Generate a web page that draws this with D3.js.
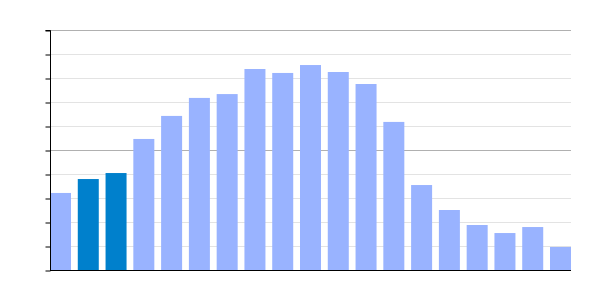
<!DOCTYPE html>
<html><head><meta charset="utf-8">
<script src="https://cdn.jsdelivr.net/npm/d3@7"></script>
<style>body{margin:0;background:#fff;} svg{display:block;}</style>
</head><body>
<script>
const categories = ["1","2","3","4","5","6","7","8","9","10","11","12","13","14","15","16","17","18","19"];
const values = [3.21,3.79,4.04,5.46,6.42,7.17,7.33,8.375,8.21,8.54,8.25,7.75,6.17,3.54,2.5,1.875,1.54,1.79,0.96];
const highlighted = ["2","3"];
const minorTicks = [1,2,3,4,6,7,8,9];
const majorTicks = [0,5,10];

const W=600,H=300, mLeft=50, mRight=571, mTop=30, mBottom=270;
const svg=d3.select("body").append("svg").attr("width",W).attr("height",H);
const x=d3.scaleBand().domain(categories).range([mLeft,mRight]).paddingInner(0.244).paddingOuter(0);
const y=d3.scaleLinear().domain([0,10]).range([mBottom,mTop]);

svg.append("g").selectAll("line").data(minorTicks).join("line")
  .attr("x1",mLeft).attr("x2",mRight).attr("y1",d=>y(d)+0.5).attr("y2",d=>y(d)+0.5)
  .attr("stroke","#e3e3e3").attr("stroke-width",1);
svg.append("g").selectAll("line").data(majorTicks.filter(d=>d>0)).join("line")
  .attr("x1",mLeft).attr("x2",mRight).attr("y1",d=>y(d)+0.5).attr("y2",d=>y(d)+0.5)
  .attr("stroke","#b0b0b0").attr("stroke-width",1);

svg.append("g").selectAll("rect").data(categories).join("rect")
  .attr("x",d=>x(d)).attr("width",x.bandwidth())
  .attr("y",(d,i)=>y(values[i])).attr("height",(d,i)=>y(0)-y(values[i]))
  .attr("fill",d=>highlighted.includes(d)?"#0080cc":"#99b3ff");

const yAxis=d3.axisLeft(y).tickValues(d3.range(0,11)).tickSize(5).tickFormat("");
const g=svg.append("g").attr("transform",`translate(${mLeft+0.5},0.5)`).call(yAxis);
g.select(".domain").attr("d",`M-5,${mTop}H0V${mBottom}`).attr("stroke","#000");
g.selectAll(".tick line").attr("stroke","#000");

svg.append("line").attr("x1",mLeft).attr("x2",mRight).attr("y1",mBottom+0.5).attr("y2",mBottom+0.5).attr("stroke","#000");
</script>
</body></html>
